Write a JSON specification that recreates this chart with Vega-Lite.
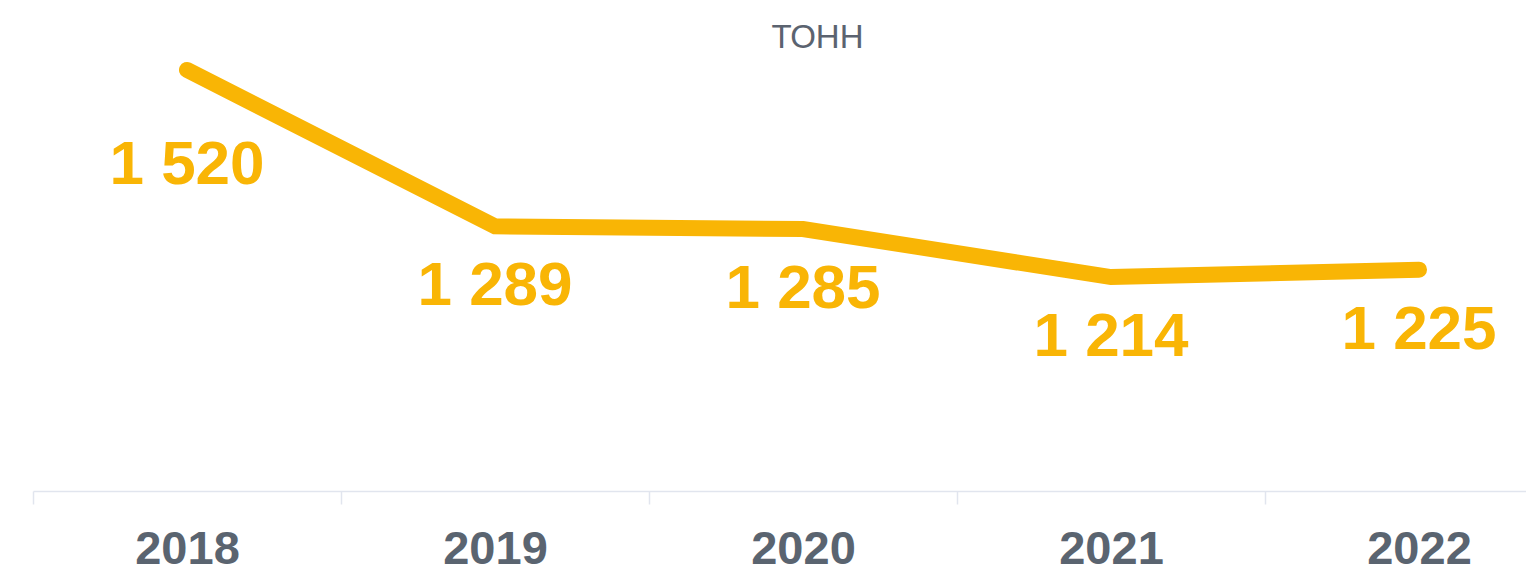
{
  "$schema": "https://vega.github.io/schema/vega-lite/v6.json",
  "autosize": {"type": "none"},
  "width": 1493,
  "height": 482,
  "padding": {"left": 33, "top": 9, "right": 0, "bottom": 77},
  "background": "white",
  "title": {
    "text": "ТОНН",
    "font": "Liberation Sans",
    "fontSize": 33,
    "fontWeight": "normal",
    "color": "#5b6370",
    "anchor": "middle",
    "baseline": "alphabetic",
    "offset": -40,
    "dx": 38,
    "dy": 32
  },
  "data": {
    "values": [
      {"year": "2018", "v": 1520},
      {"year": "2019", "v": 1289},
      {"year": "2020", "v": 1285},
      {"year": "2021", "v": 1214},
      {"year": "2022", "v": 1225}
    ]
  },
  "transform": [
    {"calculate": "replace(format(datum.v, ','), ',', ' ')", "as": "label"}
  ],
  "encoding": {
    "x": {
      "field": "year",
      "type": "ordinal",
      "scale": {"type": "band", "range": [0, 1540], "paddingInner": 0, "paddingOuter": 0},
      "axis": {
        "title": null,
        "tickBand": "extent",
        "domainColor": "#e1e5ee",
        "domainWidth": 1.5,
        "tickColor": "#e1e5ee",
        "tickWidth": 1.5,
        "tickSize": 13,
        "labelFont": "Liberation Sans",
        "labelFontSize": 47,
        "labelFontWeight": "bold",
        "labelColor": "#5a6470",
        "labelPadding": 22,
        "labelAngle": 0,
        "grid": false
      }
    },
    "y": {
      "field": "v",
      "type": "quantitative",
      "scale": {"domain": [898, 1610], "zero": false, "nice": false},
      "axis": null
    }
  },
  "layer": [
    {
      "mark": {"type": "line", "color": "#f9b505", "strokeWidth": 16, "strokeCap": "round", "strokeJoin": "miter"}
    },
    {
      "transform": [{"filter": "datum.year != '2018'"}],
      "mark": {"type": "text", "font": "Liberation Sans", "fontSize": 62, "fontWeight": "bold", "color": "#f9b505", "baseline": "alphabetic", "align": "center", "dy": 79},
      "encoding": {"text": {"field": "label"}}
    },
    {
      "transform": [{"filter": "datum.year == '2018'"}],
      "mark": {"type": "text", "font": "Liberation Sans", "fontSize": 62, "fontWeight": "bold", "color": "#f9b505", "baseline": "alphabetic", "align": "center", "dy": 114},
      "encoding": {"text": {"field": "label"}}
    }
  ],
  "config": {"view": {"stroke": null}}
}
